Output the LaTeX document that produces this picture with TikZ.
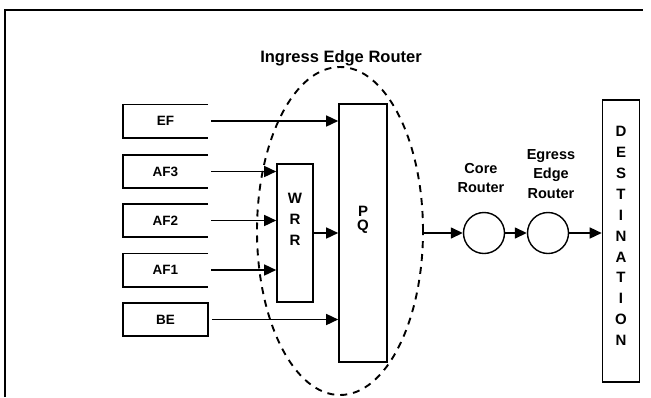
\documentclass[tikz,border=0pt]{standalone}
\usepackage{fontspec}
\setmainfont{Liberation Sans}
\usetikzlibrary{arrows.meta}

\tikzset{
  queue/.style={minimum width=85pt, minimum height=33pt, inner sep=0pt,
    font=\fontsize{13.5}{13.5}\selectfont\bfseries},
  block/.style={draw, line width=1.6pt, inner sep=0pt},
  router/.style={draw, circle, line width=1.4pt, minimum size=41pt, inner sep=0pt},
  flow/.style={line width=1.5pt, -{Triangle[length=12pt,width=11pt]}},
  letters/.style={align=center, inner sep=0pt, font=\fontsize{15}{20.9}\selectfont\bfseries},
  caption/.style={align=center, inner sep=0pt, font=\fontsize{14.5}{19.5}\selectfont\bfseries},
}

\begin{document}
\begin{tikzpicture}[x=1pt,y=-1pt]
    \useasboundingbox (0,0) rectangle (651,397);

    % Frame, cut off at the right and bottom
    \draw[line width=1.6pt] (5,397) -- (5,10) -- (643,10);

    % Ingress edge router
    \draw[line width=1.9pt, dash pattern=on 7pt off 6pt] (340,231) ellipse [x radius=83pt, y radius=164pt];
    \node[font=\fontsize{16.5}{16.5}\selectfont\bfseries] (ingress) at (341,58) {Ingress Edge Router};

    \node[block, minimum width=36pt, minimum height=138pt] (wrr) at (295,233) {};
    \node[letters] (wrrtext) at (295,219) {W\\R\\R};
    \node[block, minimum width=48pt, minimum height=258pt] (pq) at (363,233) {};
    \node[letters, font=\fontsize{15}{14.5}\selectfont\bfseries] (pqtext) at (363,220) {P\\Q};

    % Class queues (open on the right)
    \foreach \name/\txt/\y in {ef/EF/121, afthree/AF3/171.5, aftwo/AF2/220.5, afone/AF1/270}
        {
            \node[queue] (\name) at (165.5,\y) {\txt};
            \draw[line width=1.6pt] (\name.north east) -- (\name.north west)
                -- (\name.south west) -- (\name.south east);
        }
    \node[queue, draw, line width=1.6pt] (be) at (165.5,319.5) {BE};

    % Queues into the schedulers
    \draw[flow, shorten <=3pt] (ef.east) -- (ef.east -| pq.west);
    \foreach \name in {afthree, aftwo, afone}
        {
            \draw[flow, shorten <=3pt] (\name.east) -- (\name.east -| wrr.west);
        }
    \draw[flow, shorten <=3pt] (be.east) -- (be.east -| pq.west);
    \draw[flow] (wrr.east) -- (wrr.east -| pq.west);

    % Core and egress routers, destination
    \coordinate (out) at (423,233);
    \node[router] (core) at (484,233) {};
    \node[router] (egress) at (548,233) {};
    \node[block, minimum width=37pt, minimum height=282pt] (dest) at (621,241) {};
    \node[letters] (desttext) at (621,236) {D\\E\\S\\T\\I\\N\\A\\T\\I\\O\\N};
    \node[caption] (corelbl) at (481,178) {Core\\Router};
    \node[caption] (egresslbl) at (551,174) {Egress\\Edge\\Router};

    \draw[flow] (out) -- (core);
    \draw[flow] (core) -- (egress);
    \draw[flow] (egress) -- (egress -| dest.west);

\end{tikzpicture}
\end{document}
